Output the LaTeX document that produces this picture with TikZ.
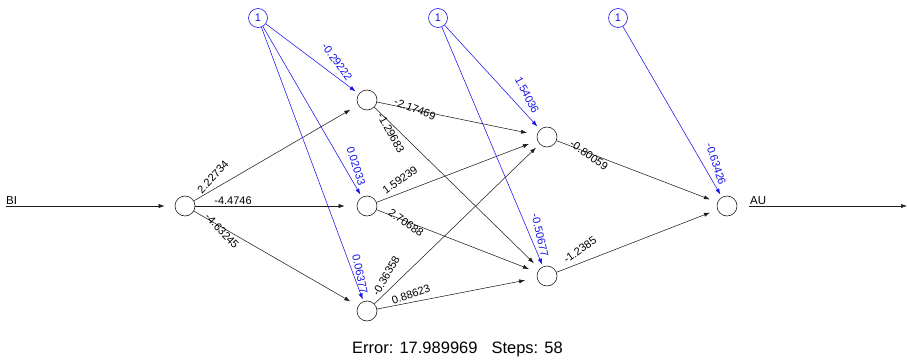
\documentclass[tikz,border=0pt]{standalone}
\usepackage{fontspec}
\setmainfont{Liberation Sans}
\usetikzlibrary{arrows.meta}
\definecolor{biasblue}{RGB}{20,20,235}
\definecolor{edgegray}{RGB}{30,30,30}
\begin{document}
\begin{tikzpicture}[x=1pt,y=-1pt,
  neuron/.style={circle,draw=edgegray,line width=0.6pt,minimum size=20pt,inner sep=0pt},
  biasnode/.style={circle,draw=biasblue,text=biasblue,line width=0.6pt,minimum size=19pt,inner sep=0pt,font=\fontsize{11}{13}\selectfont},
  edge/.style={draw=edgegray,line width=0.55pt,-{Latex[length=6pt,width=4.2pt]},shorten >=9pt},
  biasedge/.style={draw=biasblue,line width=0.55pt,-{Latex[length=6pt,width=4.2pt]},shorten >=3pt},
  wlab/.style={inner sep=0pt,font=\fontsize{11}{13}\selectfont,text=black},
  blab/.style={inner sep=0pt,font=\fontsize{11}{13}\selectfont,text=biasblue},
  iolab/.style={inner sep=0pt,font=\fontsize{11.5}{13}\selectfont,anchor=base west}
]
\useasboundingbox (0,0) rectangle (907,361);

% neurons
\node[neuron] (I)  at (185,206) {};
\node[neuron] (H1) at (367,100) {};
\node[neuron] (H2) at (367,206) {};
\node[neuron] (H3) at (367,311) {};
\node[neuron] (K1) at (547,137) {};
\node[neuron] (K2) at (547,276) {};
\node[neuron] (O)  at (727,206) {};
% bias
\node[biasnode] (B1) at (258,18) {1};
\node[biasnode] (B2) at (438,18) {1};
\node[biasnode] (B3) at (618,18) {1};

% input/output
\coordinate (inStart) at (6,206);
\coordinate (outEnd) at (907,206);
\draw[edge,shorten >=10pt] (inStart) -- (I);
\draw[edge,shorten >=0pt,shorten <=12pt] (O) -- (outEnd);
\node[iolab] (BI) at (6,204) {BI};
\node[iolab] (AU) at (750,204) {AU};

% black edges
\draw[edge] (I) -- (H1);
\draw[edge,shorten >=12pt] (I) -- (H2);
\draw[edge] (I) -- (H3);
\draw[edge,shorten >=10pt] (H1) -- (K1);
\draw[edge,shorten >=8pt] (H1) -- (K2);
\draw[edge] (H2) -- (K1);
\draw[edge] (H2) -- (K2);
\draw[edge,shorten >=5pt] (H3) -- (K1);
\draw[edge,shorten >=12pt] (H3) -- (K2);
\draw[edge,shorten >=8pt] (K1) -- (O);
\draw[edge,shorten >=8pt] (K2) -- (O);

% bias edges
\draw[biasedge,shorten >=4pt] (B1) -- (H1);
\draw[biasedge] (B1) -- (H2);
\draw[biasedge,shorten >=2pt] (B1) -- (H3);
\draw[biasedge,shorten >=4pt] (B2) -- (K1);
\draw[biasedge,shorten >=2pt] (B2) -- (K2);
\draw[biasedge] (B3) -- (O);

% weight labels
\node[wlab,rotate=47]  (w1)  at (213,177)   {2.22734};
\node[wlab]            (w2)  at (233,200.5) {-4.4746};
\node[wlab,rotate=-47] (w3)  at (222,231)   {-4.63245};
\node[wlab,rotate=-21] (w4)  at (415,109)   {-2.17469};
\node[wlab,rotate=-61] (w5)  at (391,133)   {-1.29683};
\node[wlab,rotate=35]  (w6)  at (400,180)   {1.59239};
\node[wlab,rotate=-35] (w7)  at (406,223)   {2.70688};
\node[wlab,rotate=60]  (w8)  at (386,276)   {-0.36358};
\node[wlab,rotate=19]  (w9)  at (411,294)   {0.88623};
\node[wlab,rotate=-35] (w10) at (589,155)   {-0.80059};
\node[wlab,rotate=35]  (w11) at (580,250)   {-1.2385};
% bias labels
\node[blab,rotate=-54] (b1) at (337,62)  {-0.29222};
\node[blab,rotate=-72] (b2) at (356,166) {0.02033};
\node[blab,rotate=-78] (b3) at (360,274) {0.06377};
\node[blab,rotate=-63] (b4) at (527,95)  {1.54036};
\node[blab,rotate=-77] (b5) at (540,235) {-0.50677};
\node[blab,rotate=-72] (b6) at (716,164) {-0.63426};

% footer
\node[inner sep=0pt,anchor=base west,font=\fontsize{16.5}{19}\selectfont] (err) at (352,353) {Error: 17.989969\hspace{14pt}Steps: 58};
\end{tikzpicture}
\end{document}
